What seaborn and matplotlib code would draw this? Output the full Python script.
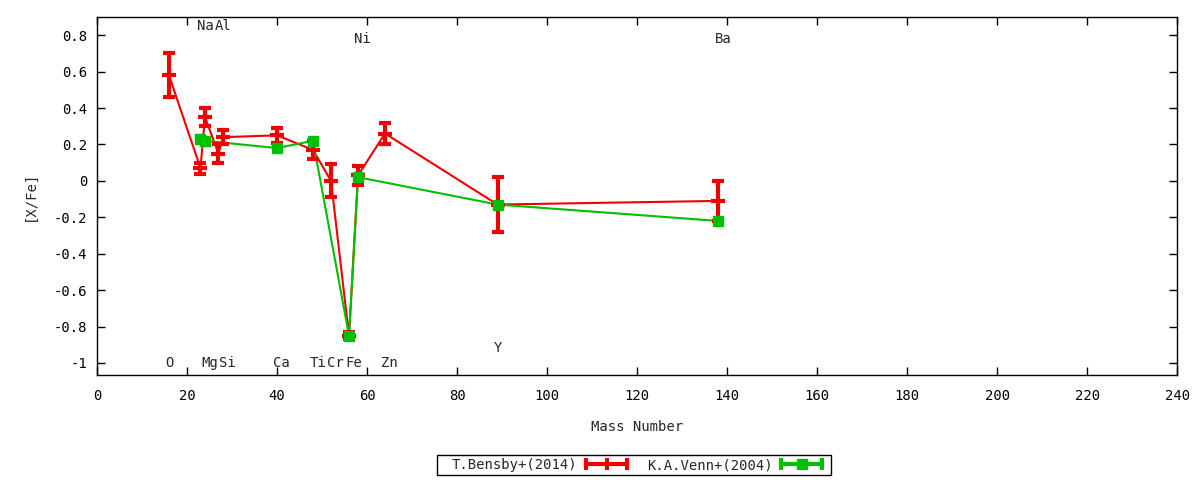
import numpy as np
import pandas as pd
import seaborn as sns
import matplotlib
matplotlib.use('Agg')
from matplotlib import pyplot as plt
from matplotlib.lines import Line2D
from matplotlib.patches import Rectangle
from matplotlib.legend_handler import HandlerBase

# values
bensby_element = ['O', 'Na', 'Mg', 'Al', 'Si', 'Ca', 'Ti', 'Cr', 'Fe', 'Ni', 'Zn', 'Y', 'Ba']
bensby_mass = [16, 23, 24, 27, 28, 40, 48, 52, 56, 58, 64, 89, 138]
bensby_xfe = [0.58, 0.07, 0.35, 0.15, 0.24, 0.25, 0.17, 0.00, -0.85, 0.03, 0.26, -0.13, -0.11]
bensby_err = [0.12, 0.03, 0.05, 0.05, 0.04, 0.04, 0.05, 0.09, 0.02, 0.05, 0.06, 0.15, 0.11]

venn_element = ['Na', 'Mg', 'Ca', 'Ti', 'Fe', 'Ni', 'Y', 'Ba']
venn_mass = [23, 24, 40, 48, 56, 58, 89, 138]
venn_xfe = [0.23, 0.22, 0.18, 0.22, -0.85, 0.02, -0.13, -0.22]

label_text = ['O', 'Na', 'Mg', 'Al', 'Si', 'Ca', 'Ti', 'Cr', 'Fe', 'Ni', 'Zn', 'Y', 'Ba']
label_mass = [16, 23, 24, 27, 28, 40, 48, 52, 56, 58, 64, 89, 138]
label_y = [-1.0, 0.85, -1.0, 0.85, -1.0, -1.0, -1.0, -1.0, -1.0, 0.78, -1.0, -0.92, 0.78]

x_ticks = [0, 20, 40, 60, 80, 100, 120, 140, 160, 180, 200, 220, 240]
y_ticks = [-1.0, -0.8, -0.6, -0.4, -0.2, 0.0, 0.2, 0.4, 0.6, 0.8]
y_ticklabels = ['-1', '-0.8', '-0.6', '-0.4', '-0.2', '0', '0.2', '0.4', '0.6', '0.8']

RED = '#f00000'
GREEN = '#00c000'

sns.set_style('ticks')
plt.rcParams['font.family'] = ['DejaVu Sans Mono', 'DejaVu Sans']
plt.rcParams['axes.unicode_minus'] = False
FS = 10


class ErrorbarKey(HandlerBase):
    # gnuplot style key sample: thick line, caps at both ends, point in the middle
    def create_artists(self, legend, orig_handle, xdescent, ydescent,
                       width, height, fontsize, trans):
        c = orig_handle.get_color()
        y = height / 2 - ydescent
        x0, x1 = -xdescent, -xdescent + width
        line = Line2D([x0, x1], [y, y], color=c, lw=3)
        caps = Line2D([x0, x1], [y, y], color=c, ls='', marker='|', ms=9, mew=3)
        mid = Line2D([(x0 + x1) / 2], [y], color=c, ls='',
                     marker=orig_handle.get_marker(), ms=orig_handle.get_markersize(),
                     mew=orig_handle.get_markeredgewidth())
        for a in (line, caps, mid):
            a.set_transform(trans)
        return [line, caps, mid]


df = pd.concat([
    pd.DataFrame({'mass': bensby_mass, 'xfe': bensby_xfe, 'src': 'T.Bensby+(2014)'}),
    pd.DataFrame({'mass': venn_mass, 'xfe': venn_xfe, 'src': 'K.A.Venn+(2004)'}),
])

fig = plt.figure(figsize=(12, 4.8), dpi=100)
ax = fig.add_axes([0.0808, 0.21875, 0.9002, 0.7459])

sns.lineplot(data=df, x='mass', y='xfe', hue='src', palette=[RED, GREEN],
             sort=False, estimator=None, lw=1.5, legend=False, ax=ax)

ax.errorbar(bensby_mass, bensby_xfe, yerr=bensby_err, fmt='_', color=RED,
            ms=10, mew=3, elinewidth=3, capsize=4.5, capthick=3, zorder=3)
ax.plot(venn_mass, venn_xfe, 's', color=GREEN, ms=7, zorder=4)

for t, m, yy in zip(label_text, label_mass, label_y):
    ax.text(m - 0.8, yy, t, ha='left', va='center', fontsize=FS)

ax.set_xlim(0, 240)
ax.set_ylim(-1.066, 0.9)
ax.set_xticks(x_ticks)
ax.set_yticks(y_ticks)
ax.set_yticklabels(y_ticklabels)
ax.tick_params(direction='in', length=6, width=1, top=True, right=True,
               labelsize=FS, colors='black')
ax.tick_params(axis='x', pad=10)
ax.tick_params(axis='y', pad=7)
for s in ax.spines.values():
    s.set_color('black')
    s.set_linewidth(1)
ax.set_xlabel('Mass Number', fontsize=FS, labelpad=12)
ax.set_ylabel('[X/Fe]', fontsize=FS, labelpad=12)

h_red = Line2D([], [], color=RED, marker='|', ms=9, mew=3)
h_green = Line2D([], [], color=GREEN, marker='s', ms=7, mew=1)
leg = ax.legend([h_red, h_green], ['T.Bensby+(2014)', 'K.A.Venn+(2004)'],
                handler_map={Line2D: ErrorbarKey()},
                loc='center', bbox_to_anchor=(0.5, -0.2517), ncol=2,
                markerfirst=False, fontsize=FS, handlelength=3.0,
                columnspacing=1.4, handletextpad=0.6, borderpad=0.2,
                frameon=False)

# gnuplot key box, wider on the sides than matplotlib's frame
fig.canvas.draw()
bb = leg.get_window_extent()
box = Rectangle((bb.x0 - 12, bb.y0), bb.width + 18, bb.height,
                transform=None, fill=False, edgecolor='black', lw=1)
fig.patches.append(box)

fig.savefig('out.png', dpi=100)
